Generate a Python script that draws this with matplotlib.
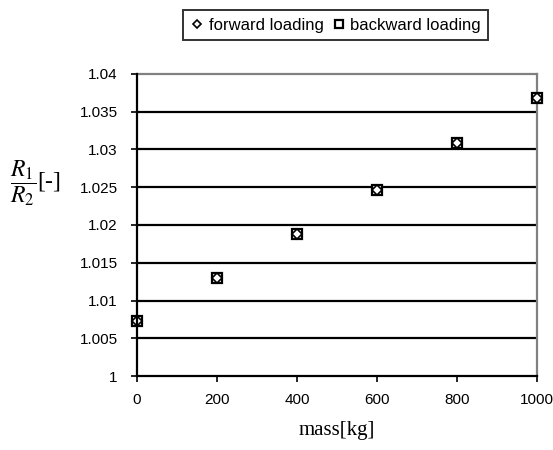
import matplotlib
matplotlib.use("Agg")
import matplotlib.pyplot as plt

# data
mass = [0, 200, 400, 600, 800, 1000]
forward = [1.0073, 1.0130, 1.0188, 1.0247, 1.0308, 1.0368]
backward = [1.0073, 1.0130, 1.0188, 1.0247, 1.0308, 1.0368]
yticks = [1.0, 1.005, 1.01, 1.015, 1.02, 1.025, 1.03, 1.035, 1.04]
ytick_labels = ["1", "1.005", "1.01", "1.015", "1.02", "1.025", "1.03", "1.035", "1.04"]
xticks = [0, 200, 400, 600, 800, 1000]

plt.rcParams['font.family'] = ['Liberation Sans', 'DejaVu Sans']
plt.rcParams['mathtext.fontset'] = 'stix'


def plot_graph():
    fig = plt.figure(figsize=(5.53, 4.5), dpi=100)
    ax = fig.add_axes([0.2477, 0.1644, 0.7233, 0.6712])

    for y in yticks[1:-1]:
        ax.axhline(y, color='#000000', lw=1.6, zorder=1)

    ax.plot(mass, backward, ls='none', marker='s', ms=7.5, mfc='white',
            mec='black', mew=1.6, label='backward loading', zorder=3,
            clip_on=False)
    ax.plot(mass, forward, ls='none', marker='D', ms=5, mfc='white',
            mec='black', mew=1.2, label='forward loading', zorder=4,
            clip_on=False)

    ax.set_xlim(0, 1000)
    ax.set_ylim(1.0, 1.04)
    ax.set_xticks(xticks)
    ax.set_yticks(yticks)
    ax.set_yticklabels(ytick_labels)
    ax.tick_params(labelsize=11, length=4, width=1.2, direction='out', pad=8)
    ax.tick_params(axis='y', pad=10)

    for side in ['left', 'bottom']:
        ax.spines[side].set_color('black')
        ax.spines[side].set_linewidth(1.6)
    for side in ['top', 'right']:
        ax.spines[side].set_color('#808080')
        ax.spines[side].set_linewidth(1.6)
    ax.spines['left'].set_zorder(5)
    ax.spines['bottom'].set_zorder(5)

    ax.set_xlabel('mass[kg]', family='Liberation Serif', fontsize=15, labelpad=10)
    fig.text(0.064, 0.593, r'$\dfrac{R_1}{R_2}$[-]', family='Liberation Serif',
             fontsize=17, ha='center', va='center')

    handles, labels = ax.get_legend_handles_labels()
    leg = fig.legend(handles[::-1], labels[::-1], loc='center',
                     bbox_to_anchor=(0.607, 0.944), ncol=2, fontsize=12,
                     frameon=True, fancybox=False, handlelength=0.8,
                     handletextpad=0.3, columnspacing=0.5, borderpad=0.45,
                     markerscale=0.8)
    leg.get_frame().set_edgecolor('black')
    leg.get_frame().set_linewidth(1.4)

    fig.savefig('out.png', dpi=100)


def main():
    plot_graph()


if __name__ == "__main__":
    main()
